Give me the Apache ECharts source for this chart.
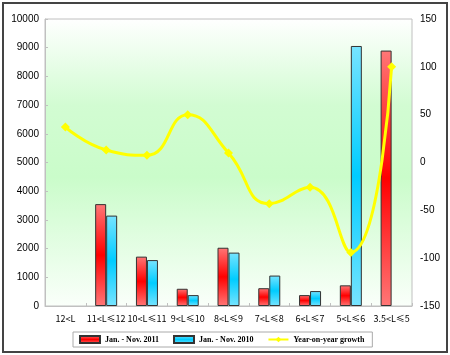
<!DOCTYPE html>
<html style="height: 100%">
<head>
<meta charset="utf-8">
<script src="https://cdn.jsdelivr.net/npm/echarts@6/dist/echarts.min.js"></script>
</head>
<body style="height: 100%; margin: 0; background: #fff">
<div id="container" style="width: 450px; height: 355px"></div>
<script type="text/javascript">
var categories = ['12<L', '11<L≤12', '10<L≤11', '9<L≤10', '8<L≤9', '7<L≤8', '6<L≤7', '5<L≤6', '3.5<L≤5'];
var sales2011 = [null, 3550, 1720, 600, 2030, 620, 380, 720, 8900];
var sales2010 = [null, 3150, 1600, 380, 1860, 1060, 520, 9060, null];
var growth = [37, 13, 7.5, 50, 10, -43, -26, -94, 100];

var leftTicks = { min: 0, max: 10000, interval: 1000 };
var rightTicks = { min: -150, max: 150, interval: 50 };

function barFill(light, dark) {
    return new echarts.graphic.LinearGradient(0, 0, 0, 1, [
        { offset: 0, color: light },
        { offset: 0.5, color: dark },
        { offset: 1, color: light }
    ]);
}

var myChart = echarts.init(document.getElementById('container'));

var option = {
    animation: false,
    graphic: [{
        type: 'rect',
        shape: { x: 3, y: 3, width: 444, height: 349 },
        style: { fill: 'none', stroke: '#444', lineWidth: 2 },
        z: -1
    }],
    grid: {
        left: 45, right: 38, top: 19, bottom: 49,
        show: true,
        borderColor: '#c0c0c0',
        borderWidth: 1,
        backgroundColor: new echarts.graphic.LinearGradient(0, 0, 0, 1, [
            { offset: 0, color: '#ffffff' },
            { offset: 0.3, color: '#d2fcd2' },
            { offset: 0.55, color: '#cafcca' },
            { offset: 1, color: '#fafffa' }
        ])
    },
    legend: {
        left: 73, top: 332,
        padding: [3, 8, 3, 6],
        itemGap: 14,
        itemWidth: 20,
        itemHeight: 7,
        borderColor: '#aaa',
        borderWidth: 1,
        textStyle: { fontFamily: 'Liberation Serif', fontSize: 8, fontWeight: 'bold', color: '#000' },
        data: [
            { name: 'Jan. - Nov. 2011', icon: 'rect' },
            { name: 'Jan. - Nov. 2010', icon: 'rect' },
            { name: 'Year-on-year growth' }
        ]
    },
    xAxis: {
        type: 'category',
        data: categories,
        axisLine: { lineStyle: { color: '#c0c0c0' } },
        axisTick: { show: true, inside: true, length: 3, lineStyle: { color: '#c0c0c0' } },
        axisLabel: { interval: 0, color: '#000', fontSize: 9, fontFamily: 'Noto Sans CJK SC', margin: 8 }
    },
    yAxis: [{
        type: 'value',
        min: leftTicks.min, max: leftTicks.max, interval: leftTicks.interval,
        splitLine: { show: false },
        axisLine: { show: true, lineStyle: { color: '#c0c0c0' } },
        axisTick: { show: true, inside: true, length: 3, lineStyle: { color: '#c0c0c0' } },
        axisLabel: { color: '#000', fontSize: 10, fontFamily: 'Liberation Sans', margin: 6,
            formatter: function (v) { return String(v); } }
    }, {
        type: 'value',
        min: rightTicks.min, max: rightTicks.max, interval: rightTicks.interval,
        splitLine: { show: false },
        axisLine: { show: false },
        axisTick: { show: false },
        axisLabel: { color: '#000', fontSize: 10, fontFamily: 'Liberation Sans', margin: 8 }
    }],
    series: [{
        name: 'Jan. - Nov. 2011',
        type: 'bar',
        data: sales2011,
        barWidth: 11,
        barGap: '0%',
        itemStyle: { color: barFill('#ff7777', '#ff0000'), borderColor: '#333', borderWidth: 1 }
    }, {
        name: 'Jan. - Nov. 2010',
        type: 'bar',
        data: sales2010,
        barWidth: 11,
        itemStyle: { color: barFill('#77e4ff', '#00ccff'), borderColor: '#333', borderWidth: 1 }
    }, {
        name: 'Year-on-year growth',
        type: 'line',
        yAxisIndex: 1,
        data: growth,
        smooth: true,
        symbol: 'diamond',
        symbolSize: 9,
        lineStyle: { color: '#ffff00', width: 3 },
        itemStyle: { color: '#ffff00' }
    }]
};

myChart.setOption(option);
</script>
</body>
</html>
